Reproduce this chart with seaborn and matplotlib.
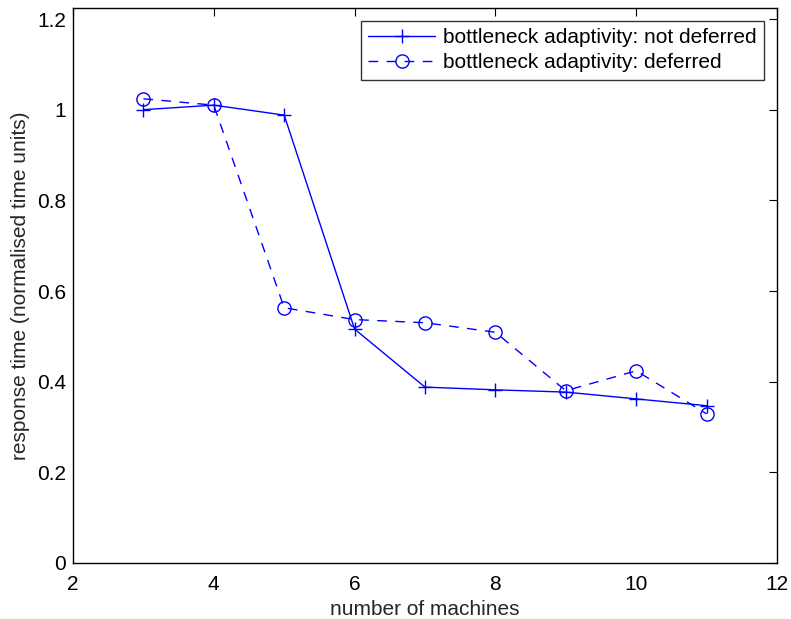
import matplotlib
matplotlib.use("Agg")
import matplotlib.pyplot as plt
import seaborn as sns
import pandas as pd

machines = [3, 4, 5, 6, 7, 8, 9, 10, 11]
not_deferred = [1.000, 1.010, 0.988, 0.516, 0.388, 0.382, 0.377, 0.362, 0.347]
deferred = [1.024, 1.010, 0.563, 0.537, 0.530, 0.509, 0.380, 0.424, 0.329]
labels = ["bottleneck adaptivity: not deferred", "bottleneck adaptivity: deferred"]
xticks = [2, 4, 6, 8, 10, 12]
yticks = [0, 0.2, 0.4, 0.6, 0.8, 1.0, 1.2]
ytick_labels = ["0", "0.2", "0.4", "0.6", "0.8", "1", "1.2"]

sns.set_theme(style="white")
plt.rcParams["font.family"] = ["Liberation Sans", "DejaVu Sans"]

df1 = pd.DataFrame({"x": machines, "y": not_deferred})
df2 = pd.DataFrame({"x": machines, "y": deferred})

fig = plt.figure(figsize=(7.91, 6.19), dpi=100)
ax = fig.add_axes([73/791, 1-563/619, (777-73)/791, (563-8)/619])

sns.lineplot(data=df1, x="x", y="y", ax=ax, color="blue", marker="+",
             markersize=9.5, markeredgecolor="blue", markeredgewidth=1.0,
             linewidth=1.0, label=labels[0])
sns.lineplot(data=df2, x="x", y="y", ax=ax, color="blue", marker="o",
             markersize=9.5, markerfacecolor="none", markeredgecolor="blue",
             markeredgewidth=1.0, linewidth=1.0, dashes=False, label=labels[1])
ax.lines[1].set_dashes((7, 6))

ax.set_xlim(2, 12)
ax.set_ylim(0, 1.2243)
ax.set_xticks(xticks)
ax.set_xticklabels([str(t) for t in xticks])
ax.set_yticks(yticks)
ax.set_yticklabels(ytick_labels)
ax.tick_params(direction="in", length=6, width=0.8, top=True, right=True,
               labelsize=15, colors="black", pad=5)
ax.tick_params(axis="x", pad=9)
for s in ax.spines.values():
    s.set_color("black")
    s.set_linewidth(1.0)
ax.set_xlabel("number of machines", fontsize=15, labelpad=4)
ax.set_ylabel("response time (normalised time units)", fontsize=15, labelpad=5)

leg = ax.legend(loc="upper right", fontsize=15, frameon=True, fancybox=False,
                handlelength=3.2, borderpad=0.35, labelspacing=0.28,
                handletextpad=0.38, borderaxespad=0.63, numpoints=1)
leg.get_frame().set_edgecolor("black")
leg.get_frame().set_linewidth(1.0)
for t in leg.get_texts():
    t.set_color("black")
fig.savefig("out.png", dpi=100)
